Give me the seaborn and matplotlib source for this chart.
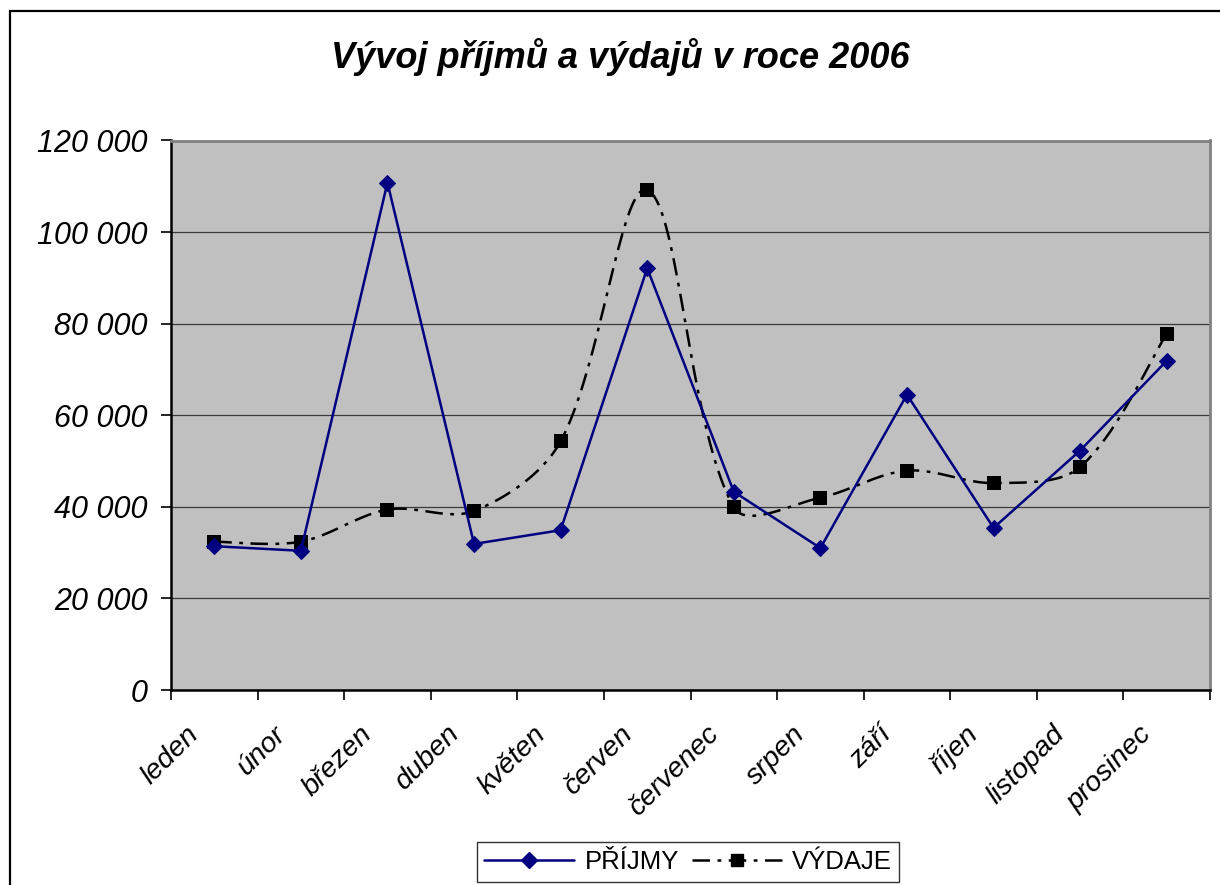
import numpy as np
import pandas as pd
import matplotlib
matplotlib.use("Agg")
import matplotlib.pyplot as plt
import seaborn as sns
from matplotlib.lines import Line2D
from matplotlib.patches import Rectangle
from matplotlib.ticker import FuncFormatter, FixedLocator
from matplotlib.transforms import ScaledTranslation

months = ["leden", "únor", "březen", "duben", "květen", "červen",
          "červenec", "srpen", "září", "říjen", "listopad", "prosinec"]
prijmy = [31400, 30400, 110800, 31900, 34900, 92100,
          43300, 31000, 64500, 35400, 52300, 71900]
vydaje = [32400, 32400, 39400, 39100, 54300, 109200,
          39900, 42000, 47900, 45200, 48700, 77800]
yticks = [0, 20000, 40000, 60000, 80000, 100000, 120000]
title = "Vývoj příjmů a výdajů v roce 2006"

sns.set_theme(style="white")
plt.rcParams['font.family'] = ['Liberation Sans', 'DejaVu Sans']
plt.rcParams['text.color'] = 'black'
plt.rcParams['xtick.color'] = 'black'
plt.rcParams['ytick.color'] = 'black'
plt.rcParams['axes.labelcolor'] = 'black'

W, H = 1220, 885
fig = plt.figure(figsize=(W / 100, H / 100), dpi=100)
fig.patch.set_facecolor("white")

# outer chart border (continues past right/bottom edge)
fig.patches.append(Rectangle((9.5 / W, -0.05), 1.2, (H - 11) / H + 0.05,
                             transform=fig.transFigure, fill=False,
                             edgecolor="black", linewidth=1.6))

L, R, T, B = 171, 1210, 140.5, 690
ax = fig.add_axes([L / W, (H - B) / H, (R - L) / W, (B - T) / H])
ax.set_facecolor("#C0C0C0")

x = np.arange(len(months))
df = pd.DataFrame({"idx": x, "PŘÍJMY": prijmy, "VÝDAJE": vydaje})

# smoothed line for VÝDAJE (Bezier through the data points, Excel-like),
# tangents scaled by segment lengths measured in screen units
xs = (R - L) / len(months)
ys = (B - T) / 120000
P = np.column_stack([x * xs, np.asarray(vydaje, float) * ys])
n = len(P)
t = np.linspace(0, 1, 40)
sx, sy = [], []
for i in range(n - 1):
    p0 = P[max(i - 1, 0)]; p1 = P[i]; p2 = P[i + 1]; p3 = P[min(i + 2, n - 1)]
    d01 = np.linalg.norm(p1 - p0); d12 = np.linalg.norm(p2 - p1); d23 = np.linalg.norm(p3 - p2)
    f1 = d12 / (3 * (d01 + d12)) if d01 > 0 else 1 / 6
    f2 = d12 / (3 * (d12 + d23)) if d23 > 0 else 1 / 6
    c1 = p1 + (p2 - p0) * f1
    c2 = p2 - (p3 - p1) * f2
    pts = ((1 - t) ** 3)[:, None] * p1 + (3 * (1 - t) ** 2 * t)[:, None] * c1 \
        + (3 * (1 - t) * t ** 2)[:, None] * c2 + (t ** 3)[:, None] * p2
    sx.extend(pts[:, 0] / xs); sy.extend(pts[:, 1] / ys)
dash = (0, (7, 3, 1.5, 3))
ax.plot(sx, sy, color="black", linewidth=1.8, linestyle=dash, zorder=3)
sns.scatterplot(data=df, x="idx", y="VÝDAJE", marker="s", s=110, color="black",
                edgecolor="black", linewidth=0, ax=ax, zorder=4, legend=False)

sns.lineplot(data=df, x="idx", y="PŘÍJMY", color="#000080", linewidth=1.8,
             marker="D", markersize=8.5, markeredgecolor="#000080",
             ax=ax, zorder=5, legend=False)

ax.set_xlim(-0.5, len(months) - 0.5)
ax.set_ylim(0, 120000)
ax.set_xlabel("")
ax.set_ylabel("")

ax.yaxis.set_major_locator(FixedLocator(yticks))
ax.yaxis.set_major_formatter(FuncFormatter(lambda v, p: f"{int(v):,}".replace(",", " ")))
ax.grid(axis="y", color="#3a3a3a", linewidth=0.9)
ax.grid(axis="x", visible=False)
ax.set_axisbelow(True)

# category boundary ticks, labels drawn at category centres
ax.set_xticks(np.arange(-0.5, len(months), 1.0))
ax.set_xticklabels([])
lab_tr = ax.get_xaxis_transform() + ScaledTranslation(-0.28, -0.31, fig.dpi_scale_trans)
for i, m in enumerate(months):
    ax.text(i, 0, m, transform=lab_tr, rotation=45, ha="right", va="top",
            rotation_mode="anchor", fontstyle="italic", fontsize=20.5, clip_on=False)

ax.tick_params(axis="x", which="major", direction="out", length=7, width=1.2,
               color="black", bottom=True)
ax.tick_params(axis="y", direction="out", length=7, width=1.2, color="black",
               left=True, labelsize=22, pad=10)
for lab in ax.get_yticklabels():
    lab.set_fontstyle("italic")

for s in ["left", "bottom"]:
    ax.spines[s].set_color("black")
    ax.spines[s].set_linewidth(1.8)
for s in ["top", "right"]:
    ax.spines[s].set_color("#808080")
    ax.spines[s].set_linewidth(2)
    ax.spines[s].set_visible(True)

fig.text(620 / W, 1 - 57 / H, title, ha="center", va="center",
         fontsize=26, fontweight="bold", fontstyle="italic")

handles = [Line2D([0], [0], color="#000080", linewidth=1.8, marker="D",
                  markersize=8.5, markeredgecolor="#000080"),
           Line2D([0], [0], color="black", linewidth=1.8, linestyle=(0, (7, 3, 1.5, 3)),
                  marker="s", markersize=9)]
leg = fig.legend(handles, ["PŘÍJMY", "VÝDAJE"], loc="center",
                 bbox_to_anchor=(688 / W, 1 - 862 / H), ncol=2, fontsize=18.5,
                 frameon=True, fancybox=False, edgecolor="black",
                 handlelength=3.5, columnspacing=0.5, handletextpad=0.4,
                 borderpad=0.3)
leg.get_frame().set_linewidth(1.0)

fig.savefig("out.png", dpi=100, facecolor="white")
